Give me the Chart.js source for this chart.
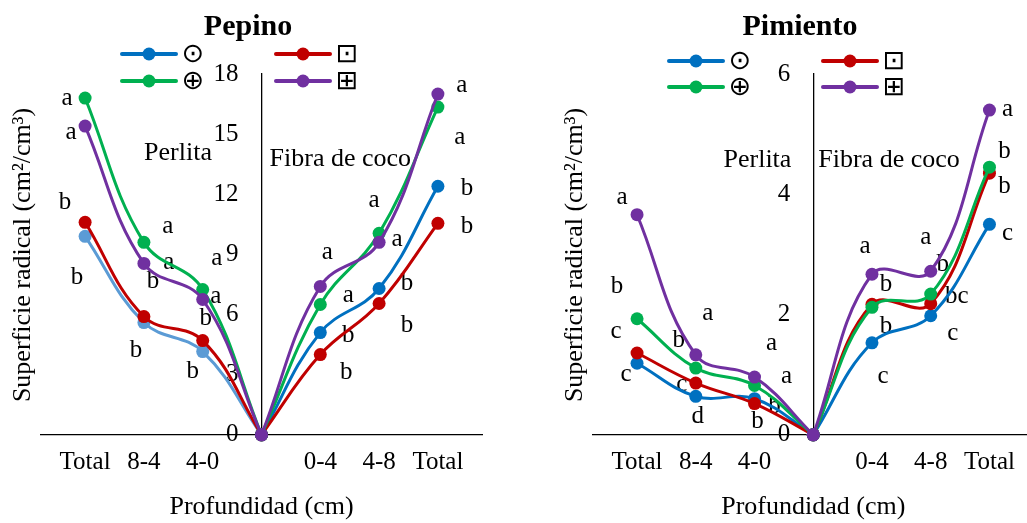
<!DOCTYPE html>
<html>
<head>
<meta charset="utf-8">
<script src="https://cdn.jsdelivr.net/npm/chart.js@4.4.1/dist/chart.umd.min.js"></script>
<style>
  body { margin: 0; background: #fff; overflow: hidden; width: 1027px; height: 523px; position: relative; }
  canvas { position: absolute; top: 0; }
</style>
</head>
<body>
<canvas id="pepino" width="520" height="523" style="left:0"></canvas>
<canvas id="pimiento" width="520" height="523" style="left:520px"></canvas>
<script>
// depth positions: left half = Perlita, right half = Fibra de coco
const depthPositions = [-3, -2, -1, 0, 1, 2, 3];
const depthLabels = ['Total', '8-4', '4-0', '', '0-4', '4-8', 'Total'];
const treatments = ['⊙', '⊡', '⊕', '⊞'];

// Pepino (cm2/cm3)
const pepino1 = [9.9, 5.6, 4.15, 0, 5.1, 7.3, 12.4];
const pepino2 = [10.6, 5.9, 4.7, 0, 4.0, 6.55, 10.55];
const pepino3 = [16.8, 9.6, 7.25, 0, 6.5, 10.05, 16.35];
const pepino4 = [15.4, 8.55, 6.75, 0, 7.4, 9.6, 17.0];
const pepinoLetras1 = ['b', 'b', 'b', '', 'b', 'b', 'b'];
const pepinoLetras2 = ['b', 'b', 'b', '', 'b', 'b', 'b'];
const pepinoLetras3 = ['a', 'a', 'a', '', 'a', 'a', 'a'];
const pepinoLetras4 = ['a', 'a', 'a', '', 'a', 'a', 'a'];
const pepinoTicks = [0, 3, 6, 9, 12, 15, 18];

// Pimiento (cm2/cm3)
const pimiento1 = [1.19, 0.64, 0.6, 0, 1.53, 1.98, 3.5];
const pimiento2 = [1.36, 0.86, 0.52, 0, 2.17, 2.18, 4.35];
const pimiento3 = [1.93, 1.11, 0.82, 0, 2.12, 2.34, 4.45];
const pimiento4 = [3.66, 1.33, 0.96, 0, 2.67, 2.72, 5.4];
const pimientoLetras1 = ['c', 'd', 'b', '', 'c', 'c', 'c'];
const pimientoLetras2 = ['c', 'c', 'b', '', 'b', 'bc', 'b'];
const pimientoLetras3 = ['b', 'b', 'a', '', 'b', 'b', 'b'];
const pimientoLetras4 = ['a', 'a', 'a', '', 'a', 'a', 'a'];
const pimientoTicks = [0, 2, 4, 6];

const colors = ['#0070C0', '#C00000', '#00B050', '#7030A0'];
const lightBlue = '#5B9BD5';
const serif = '"Liberation Serif", "Times New Roman", serif';

// pixel nudges for the letters (where they sit next to each point)
const pepinoNudge = [
  [[-8, 41], [-8, 28], [-10, 20], null, [28, 3], [28, -5], [29, 2]],
  [[-20, -20], [9, -35], [3, -22], null, [26, 18], [28, 22], [29, 3]],
  [[-18, 0], [24, -16], [14, -31], null, [28, -9], [-5, -33], [22, 30]],
  [[-14, 6], [25, -1], [13, -3], null, [7, -34], [18, -3], [24, -9]]
];
const pimientoNudge = [
  [[-11, 11], [2, 20], [20, 8], null, [11, 34], [22, 18], [18, 9]],
  [[-21, -22], [-14, 1], [3, 18], null, [14, 22], [26, -7], [15, 13]],
  [[-20, -32], [-17, -28], [32, -9], null, [14, -23], [12, -30], [15, -16]],
  [[-15, -17], [12, -41], [17, -34], null, [-7, -28], [-5, -34], [18, -1]]
];

function half(values, from, to) {
  const pts = [];
  for (let i = from; i <= to; i++) pts.push({ x: depthPositions[i], y: values[i] });
  return pts;
}

function buildDatasets(series, leftBlue) {
  const sets = [];
  // purple first so it is drawn on top, blue last
  [3, 2, 1, 0].forEach(k => {
    const c = series[k];
    const cl = (k === 0 && leftBlue) ? leftBlue : colors[k];
    const common = { borderWidth: 3, pointRadius: 6.5, pointHoverRadius: 6.5, pointBorderWidth: 0, tension: 0.4, clip: false };
    sets.push(Object.assign({ data: half(c, 0, 3), borderColor: cl, pointBackgroundColor: cl }, common));
    sets.push(Object.assign({ data: half(c, 3, 6), borderColor: colors[k], pointBackgroundColor: colors[k] }, common));
  });
  return sets;
}

function extrasPlugin(cfg) {
  return {
    id: 'extras',
    beforeDatasetsDraw(chart) {
      const { ctx } = chart;
      const x = chart.scales.x, y = chart.scales.y;
      ctx.save();
      ctx.fillStyle = '#000';
      // y tick numbers, a bit away from the centred axis
      ctx.font = '25px ' + serif;
      ctx.textAlign = 'right';
      ctx.textBaseline = 'middle';
      const axisX = x.getPixelForValue(0);
      y.ticks.forEach(t => ctx.fillText(String(t.value), axisX - 23, y.getPixelForValue(t.value)));

      ctx.textAlign = 'center';
      ctx.font = '26px ' + serif;
      cfg.sections.forEach(s => ctx.fillText(s.text, x.getPixelForValue(s.x), y.getPixelForValue(s.y)));
      ctx.font = '25px ' + serif;
      cfg.series.forEach((vals, k) => {
        vals.forEach((v, i) => {
          const l = cfg.letters[k][i];
          if (!l) return;
          const n = cfg.nudge[k][i];
          ctx.fillText(l, x.getPixelForValue(depthPositions[i]) + n[0], y.getPixelForValue(v) + n[1]);
        });
      });
      ctx.restore();
    },
    afterDraw(chart) {
      const { ctx } = chart;
      ctx.save();
      ctx.fillStyle = '#000';
      // title
      ctx.textAlign = 'center';
      ctx.textBaseline = 'alphabetic';
      ctx.font = 'bold 30px ' + serif;
      ctx.fillText(cfg.title, cfg.titleX, 35);
      // y axis title
      ctx.textBaseline = 'middle';
      ctx.font = '26px ' + serif;
      ctx.translate(cfg.yTitleX, 255);
      ctx.rotate(-Math.PI / 2);
      ctx.fillText('Superficie radical (cm²/cm³)', 0, 0);
      ctx.restore();

      // legend: 2 x 2
      ctx.save();
      [0, 1, 2, 3].forEach(k => {
        const col = k % 2, row = Math.floor(k / 2);
        const x0 = cfg.legendX[col], yy = cfg.legendY[row];
        ctx.strokeStyle = colors[k];
        ctx.lineWidth = 4;
        ctx.lineCap = 'round';
        ctx.beginPath();
        ctx.moveTo(x0, yy);
        ctx.lineTo(x0 + 54, yy);
        ctx.stroke();
        ctx.fillStyle = colors[k];
        ctx.beginPath();
        ctx.arc(x0 + 27, yy, 6.5, 0, Math.PI * 2);
        ctx.fill();
        ctx.fillStyle = '#000';
        ctx.font = '27px "DejaVu Sans"';
        ctx.textAlign = 'center';
        ctx.textBaseline = 'middle';
        ctx.fillText(treatments[k], x0 + 71, yy + 1);
      });
      ctx.restore();
    }
  };
}

function makeChart(id, cfg) {
  const ctx = document.getElementById(id).getContext('2d');
  return new Chart(ctx, {
    type: 'line',
    data: { datasets: buildDatasets(cfg.series, cfg.leftBlue) },
    options: {
      responsive: false,
      animation: false,
      layout: { padding: { top: 74, left: cfg.padLeft, right: cfg.padRight, bottom: 0 } },
      plugins: { legend: { display: false }, tooltip: { enabled: false } },
      scales: {
        x: {
          type: 'linear',
          min: -3.75,
          max: 3.75,
          position: 'bottom',
          afterBuildTicks: s => { s.ticks = depthPositions.filter(v => v !== 0).map(v => ({ value: v })); },
          ticks: {
            callback: v => depthLabels[depthPositions.indexOf(v)],
            font: { family: serif, size: 25 },
            color: '#000',
            padding: 13,
            maxRotation: 0,
            autoSkip: false
          },
          grid: { display: false, drawTicks: false },
          border: { display: true, color: '#000', width: 1.3 },
          title: {
            display: true,
            text: 'Profundidad (cm)',
            font: { family: serif, size: 26 },
            color: '#000',
            padding: { top: 1, bottom: 0 }
          }
        },
        y: {
          type: 'linear',
          min: 0,
          max: cfg.yTicks[cfg.yTicks.length - 1],
          position: { x: 0 },
          afterBuildTicks: s => { s.ticks = cfg.yTicks.map(v => ({ value: v })); },
          ticks: { display: false },
          grid: { display: false, drawTicks: false },
          border: { display: true, color: '#000', width: 1.3 }
        }
      }
    },
    plugins: [extrasPlugin(cfg)]
  });
}

makeChart('pepino', {
  title: 'Pepino', titleX: 248, yTitleX: 23,
  legendX: [122, 276], legendY: [54, 81],
  padLeft: 41, padRight: 38,
  leftBlue: lightBlue,
  yTicks: pepinoTicks,
  series: [pepino1, pepino2, pepino3, pepino4],
  letters: [pepinoLetras1, pepinoLetras2, pepinoLetras3, pepinoLetras4],
  nudge: pepinoNudge,
  sections: [{ text: 'Perlita', x: -1.42, y: 14.05 }, { text: 'Fibra de coco', x: 1.34, y: 13.75 }]
});

makeChart('pimiento', {
  title: 'Pimiento', titleX: 280, yTitleX: 55,
  legendX: [149, 303], legendY: [61, 87],
  padLeft: 73, padRight: 6,
  leftBlue: null,
  yTicks: pimientoTicks,
  series: [pimiento1, pimiento2, pimiento3, pimiento4],
  letters: [pimientoLetras1, pimientoLetras2, pimientoLetras3, pimientoLetras4],
  nudge: pimientoNudge,
  sections: [{ text: 'Perlita', x: -0.95, y: 4.57 }, { text: 'Fibra de coco', x: 1.29, y: 4.57 }]
});
</script>
</body>
</html>
